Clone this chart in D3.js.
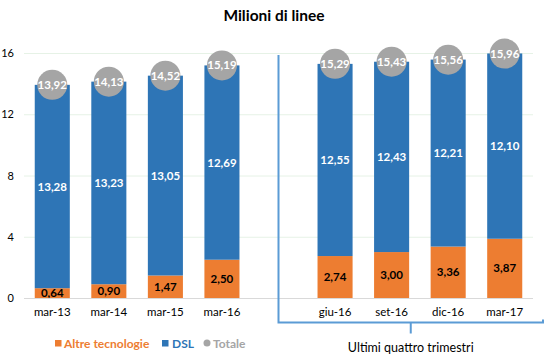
<!DOCTYPE html>
<html><head><meta charset="utf-8">
<script src="https://cdn.jsdelivr.net/npm/d3@7"></script>
<style>body{margin:0;background:#fff;} svg{display:block;} text{font-family:Lato,"Liberation Sans",sans-serif;}</style>
</head><body>
<script>
const categories = ["mar-13","mar-14","mar-15","mar-16","giu-16","set-16","dic-16","mar-17"];
const altre = [0.64,0.90,1.47,2.50,2.74,3.00,3.36,3.87];
const dsl = [13.28,13.23,13.05,12.69,12.55,12.43,12.21,12.10];
const totale = [13.92,14.13,14.52,15.19,15.29,15.43,15.56,15.96];
const yTicks = [0,4,8,12,16];
const title = "Milioni di linee";
const bracketLabel = "Ultimi quattro trimestri";
const legendItems = ["Altre tecnologie","DSL","Totale"];

const W=550,H=360;
const svg=d3.select("body").append("svg").attr("width",W).attr("height",H);
const slots=[...categories.slice(0,4),"__gap",...categories.slice(4)];
const x=d3.scaleBand().domain(slots).range([24,533]).paddingInner(0.38).paddingOuter(0.19);
const y=d3.scaleLinear().domain([0,16]).range([298,53]);
const blue="#2e75b6",orange="#ed7d31",gray="#a5a5a5",bracket="#5b9bd5";
const fmt=v=>v.toFixed(2).replace(".",",");

svg.append("text").attr("x",274).attr("y",20.5).attr("text-anchor","middle")
  .attr("font-size",15.5).attr("font-weight","bold").attr("fill","#000").text(title);

// grid
svg.selectAll(".grid").data(yTicks.filter(t=>t>0)).join("line")
  .attr("x1",24).attr("x2",533).attr("y1",d=>y(d)+0.5).attr("y2",d=>y(d)+0.5)
  .attr("stroke","#e6f2e6").attr("stroke-width",1);
// y labels
const yAxis=d3.axisLeft(y).tickValues(yTicks).tickSize(0).tickPadding(0).tickFormat(d3.format("d"));
const ya=svg.append("g").attr("transform","translate(14,0)").call(yAxis);
ya.select(".domain").remove();
ya.selectAll("text").attr("font-size",11).attr("fill","#000").attr("font-family","Lato,sans-serif");

const data=categories.map((c,i)=>({c,a:altre[i],d:dsl[i],t:totale[i]}));
const g=svg.append("g");
g.selectAll(".ba").data(data).join("rect")
  .attr("x",d=>x(d.c)).attr("width",x.bandwidth())
  .attr("y",d=>y(d.a)).attr("height",d=>y(0)-y(d.a)).attr("fill",orange);
g.selectAll(".bd").data(data).join("rect")
  .attr("x",d=>x(d.c)).attr("width",x.bandwidth())
  .attr("y",d=>y(d.a+d.d)).attr("height",d=>y(d.a)-y(d.a+d.d)).attr("fill",blue);

// x axis line
svg.append("line").attr("x1",24).attr("x2",533).attr("y1",298.5).attr("y2",298.5).attr("stroke","#d9d9d9");

// labels
g.selectAll(".la").data(data).join("text")
  .attr("x",d=>x(d.c)+x.bandwidth()/2).attr("y",d=>y(d.a/2)).attr("dy","0.35em")
  .attr("text-anchor","middle").attr("font-size",11.5).attr("font-weight","bold").attr("fill","#000")
  .text(d=>fmt(d.a));
g.selectAll(".ld").data(data).join("text")
  .attr("x",d=>x(d.c)+x.bandwidth()/2).attr("y",d=>y(d.a+d.d/2)).attr("dy","0.35em")
  .attr("text-anchor","middle").attr("font-size",11.5).attr("font-weight","bold").attr("fill","#fff")
  .text(d=>fmt(d.d));
g.selectAll(".ct").data(data).join("circle")
  .attr("cx",d=>x(d.c)+x.bandwidth()/2).attr("cy",d=>y(d.t)).attr("r",15).attr("fill",gray);
g.selectAll(".lt").data(data).join("text")
  .attr("x",d=>x(d.c)+x.bandwidth()/2).attr("y",d=>y(d.t)).attr("dy","0.35em")
  .attr("text-anchor","middle").attr("font-size",11.5).attr("font-weight","bold").attr("fill","#fff")
  .text(d=>fmt(d.t));

// category labels
const xAxis=d3.axisBottom(x).tickValues(categories).tickSize(0).tickPadding(0);
const xa=svg.append("g").attr("transform","translate(0,308)").call(xAxis);
xa.select(".domain").remove();
xa.selectAll("text").attr("font-size",11.5).attr("fill","#000").attr("font-family","Lato,sans-serif");

// bracket
const gx=x("__gap")+x.bandwidth()/2;
const bx2=543, by=322.5;
svg.append("path").attr("d",`M${gx},55 V${by} H${bx2} V${by-3}`)
  .attr("fill","none").attr("stroke",bracket).attr("stroke-width",2);
const mid=(gx+bx2)/2;
svg.append("path").attr("d",`M${mid},${by} V${by+11}`).attr("stroke",bracket).attr("stroke-width",2);
svg.append("text").attr("x",mid).attr("y",352).attr("text-anchor","middle").attr("font-size",12.5)
  .attr("fill","#000").text(bracketLabel);

// legend
const lg=svg.append("g");
lg.append("rect").attr("x",55).attr("y",340).attr("width",6.5).attr("height",6.5).attr("fill",orange);
lg.append("text").attr("x",64).attr("y",347.5).attr("font-size",12).attr("font-weight","bold").attr("fill",orange).text(legendItems[0]);
lg.append("rect").attr("x",162).attr("y",340).attr("width",6.5).attr("height",6.5).attr("fill",blue);
lg.append("text").attr("x",172).attr("y",347.5).attr("font-size",12).attr("font-weight","bold").attr("fill",blue).text(legendItems[1]);
lg.append("circle").attr("cx",207).attr("cy",343).attr("r",3.5).attr("fill",gray);
lg.append("text").attr("x",213).attr("y",347.5).attr("font-size",12).attr("font-weight","bold").attr("fill",gray).text(legendItems[2]);
</script>
</body></html>
